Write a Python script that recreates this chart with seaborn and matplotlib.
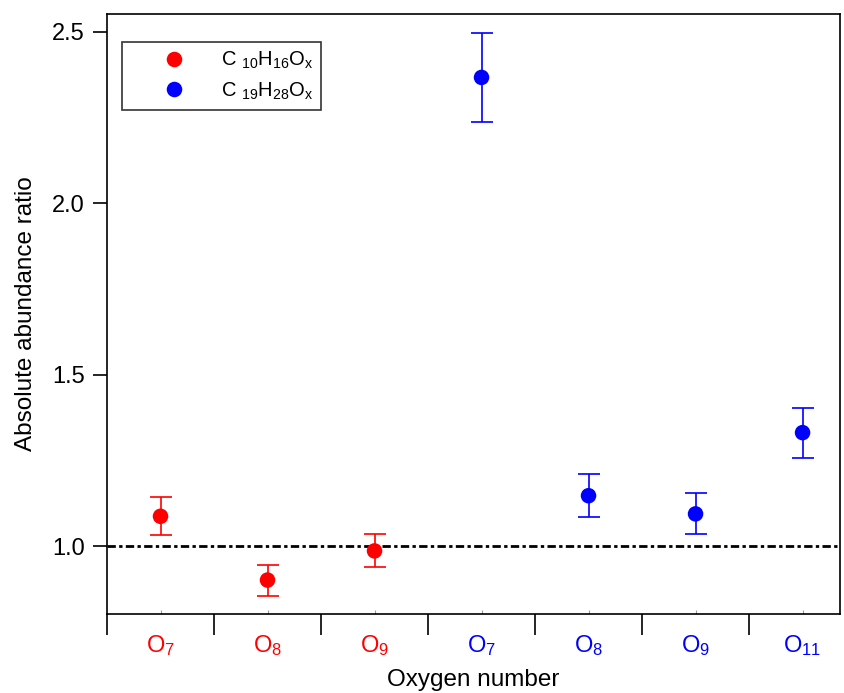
import numpy as np
import pandas as pd
import matplotlib
matplotlib.use("Agg")
import matplotlib.pyplot as plt
import seaborn as sns

# ---- data ----
categories = ["O$_7$", "O$_8$", "O$_9$", "O$_7$", "O$_8$", "O$_9$", "O$_{11}$"]
series = ["C10", "C10", "C10", "C19", "C19", "C19", "C19"]
values = [1.087, 0.901, 0.986, 2.367, 1.147, 1.094, 1.331]
err_low = [0.055, 0.046, 0.048, 0.130, 0.062, 0.060, 0.074]
err_high = [0.055, 0.044, 0.050, 0.130, 0.062, 0.061, 0.073]
series_labels = {"C10": "C $_{10}$H$_{16}$O$_x$", "C19": "C $_{19}$H$_{28}$O$_x$"}
palette = {"C10": "#ff0000", "C19": "#0000ff"}
ref_value = 1.0

df = pd.DataFrame({"pos": np.arange(len(values)), "value": values,
                   "series": series, "lo": err_low, "hi": err_high})
df["label"] = df["series"].map(series_labels)

sns.set_theme(style="ticks")
plt.rcParams["font.family"] = ["Liberation Sans", "DejaVu Sans"]
plt.rcParams["mathtext.fontset"] = "custom"
plt.rcParams["mathtext.rm"] = "Liberation Sans"
plt.rcParams["mathtext.it"] = "Liberation Sans"
plt.rcParams["text.color"] = "black"
plt.rcParams["axes.labelcolor"] = "black"
plt.rcParams["xtick.color"] = "black"
plt.rcParams["ytick.color"] = "black"

fig = plt.figure(figsize=(8.45, 6.93), dpi=100)
ax = fig.add_axes([107/845, 1 - 614/693, (840-107)/845, (614-14)/693])

# error bars
for s, g in df.groupby("series"):
    ax.errorbar(g["pos"], g["value"], yerr=[g["lo"], g["hi"]], fmt="none",
                ecolor=palette[s], elinewidth=1.2, capsize=8, capthick=1.2, zorder=2)

sns.scatterplot(data=df, x="pos", y="value", hue="label",
                palette={series_labels[k]: v for k, v in palette.items()},
                s=125, edgecolor="none", ax=ax, zorder=3)

ax.axhline(ref_value, color="black", lw=2, dashes=(3, 1.2, 1.2, 1.2), zorder=1)

ax.set_xlim(-0.5, 6.35)
ax.set_ylim(0.802, 2.552)
ax.set_yticks([1.0, 1.5, 2.0, 2.5])
ax.set_yticklabels(["1.0", "1.5", "2.0", "2.5"])

# boundary ticks (no labels) and labelled centres
ax.set_xticks(np.arange(-0.5, 6.5, 1.0))
ax.set_xticklabels([])
ax.set_xticks(np.arange(len(categories)), minor=True)
ax.set_xticklabels(categories, minor=True)
for lbl, s in zip(ax.get_xticklabels(minor=True), series):
    lbl.set_color(palette[s])
ax.tick_params(axis="x", which="major", direction="out", length=15, width=1.2, color="black")
ax.tick_params(axis="x", which="minor", direction="in", length=3, width=0.8, labelsize=17, pad=14, color="#999999")
ax.tick_params(axis="y", which="major", direction="out", length=10, width=1.2, labelsize=17, color="black", pad=6)

for sp in ax.spines.values():
    sp.set_visible(True)
    sp.set_color("black")
    sp.set_linewidth(1.2)

ax.set_xlabel("Oxygen number", fontsize=17.5, labelpad=8)
ax.set_ylabel("Absolute abundance ratio", fontsize=17.5, labelpad=11)

leg = ax.legend(loc="upper left", bbox_to_anchor=(15/733, 1 - 28/600), frameon=True, fancybox=False,
                fontsize=14.5, title=None, handletextpad=0.1, borderpad=0.4, labelspacing=0.45,
                markerscale=1.0, borderaxespad=0, handlelength=4.4)
leg.get_frame().set_edgecolor("black")
leg.get_frame().set_linewidth(1.2)

fig.savefig("out.png", dpi=100)
